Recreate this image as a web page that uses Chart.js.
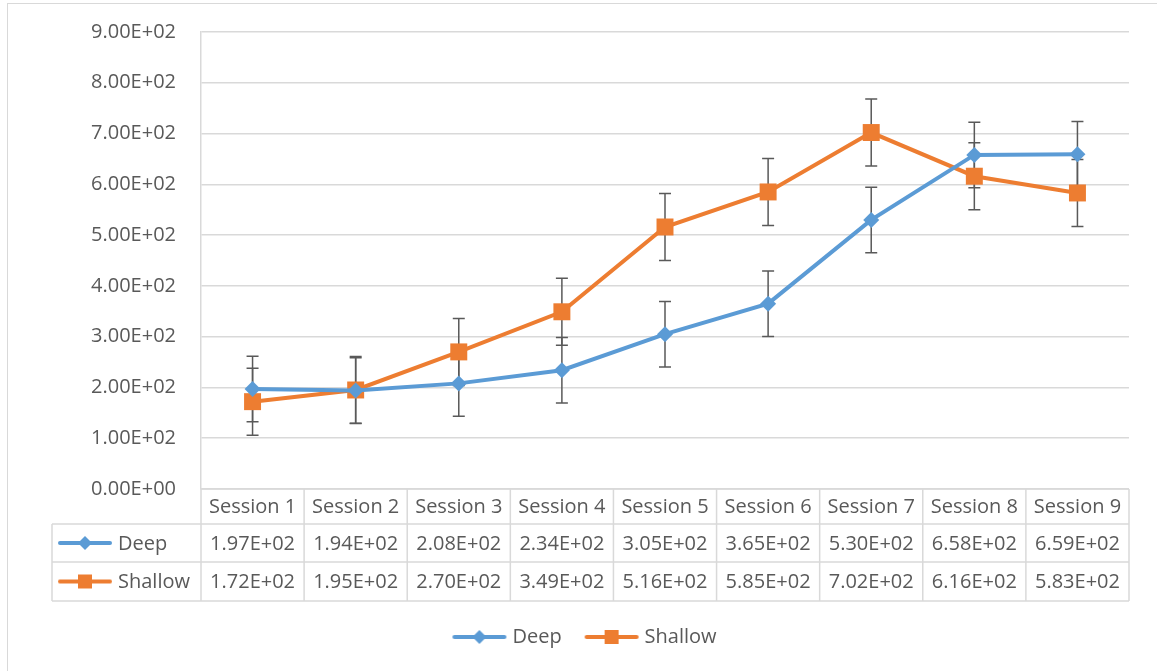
<!DOCTYPE html>
<html>
<head>
<meta charset="utf-8">
<script src="https://cdn.jsdelivr.net/npm/chart.js@4.4.1/dist/chart.umd.min.js"></script>
<style>
  html, body { margin: 0; padding: 0; background: #fff; }
  #wrap { position: relative; width: 1157px; height: 671px; overflow: hidden; }
  #frame { position: absolute; left: 7px; top: 3px; right: -10px; bottom: -10px; border-left: 1.5px solid #d9d9d9; border-top: 1.5px solid #d9d9d9; }
  canvas { position: absolute; left: 0; top: 0; }
</style>
</head>
<body>
<div id="wrap">
  <div id="frame"></div>
  <canvas id="chart" width="1157" height="671"></canvas>
</div>
<script>
// data
const sessions = ['Session 1', 'Session 2', 'Session 3', 'Session 4', 'Session 5', 'Session 6', 'Session 7', 'Session 8', 'Session 9'];
const deep = [197, 194, 208, 234, 305, 365, 530, 658, 659];
const shallow = [172, 195, 270, 349, 516, 585, 702, 616, 583];
const deepErr = [64.5, 64.5, 64.5, 64.5, 64.5, 64.5, 64.5, 64.5, 64.5];
const shallowErr = [66, 66, 66, 66, 66, 66, 66, 66, 66];
const yTicks = [0, 100, 200, 300, 400, 500, 600, 700, 800, 900];

const BLUE = '#5B9BD5';
const ORANGE = '#ED7D31';
const TEXT = '#595959';
const GRID = '#d9d9d9';
const FONT = '"Open Sans", sans-serif';

function sci(v) {
  // Excel style 0.00E+00
  const [m, e] = Number(v).toExponential(2).split('e');
  const n = parseInt(e, 10);
  return m + 'E' + (n < 0 ? '-' : '+') + String(Math.abs(n)).padStart(2, '0');
}

// little line+marker swatch used in the legend and the data table
function mkKey(color, shape) {
  const c = document.createElement('canvas');
  c.width = 56; c.height = 20;
  const g = c.getContext('2d');
  g.strokeStyle = color; g.lineWidth = 4; g.lineCap = 'round';
  g.beginPath(); g.moveTo(3, 10); g.lineTo(53, 10); g.stroke();
  g.fillStyle = color;
  g.beginPath();
  if (shape === 'diamond') {
    g.moveTo(28, 3); g.lineTo(35, 10); g.lineTo(28, 17); g.lineTo(21, 10);
  } else {
    g.rect(21, 3, 14, 14);
  }
  g.closePath(); g.fill();
  return c;
}
const deepKey = mkKey(BLUE, 'diamond');
const shallowKey = mkKey(ORANGE, 'square');

const errorBars = {
  id: 'errorBars',
  beforeDatasetsDraw(chart) {
    const { ctx } = chart;
    const y = chart.scales.y;
    const errs = [deepErr, shallowErr];
    ctx.save();
    ctx.strokeStyle = TEXT;
    ctx.lineWidth = 1.5;
    chart.data.datasets.forEach((ds, di) => {
      const meta = chart.getDatasetMeta(di);
      meta.data.forEach((pt, i) => {
        const v = ds.data[i], e = errs[di][i];
        const top = y.getPixelForValue(v + e), bot = y.getPixelForValue(v - e);
        ctx.beginPath();
        ctx.moveTo(pt.x, top); ctx.lineTo(pt.x, bot);
        ctx.moveTo(pt.x - 6, top); ctx.lineTo(pt.x + 6, top);
        ctx.moveTo(pt.x - 6, bot); ctx.lineTo(pt.x + 6, bot);
        ctx.stroke();
      });
    });
    ctx.restore();
  }
};

const dataTable = {
  id: 'dataTable',
  afterDraw(chart) {
    const { ctx, chartArea } = chart;
    const x = chart.scales.x;
    const cw = (chartArea.right - chartArea.left) / sessions.length;
    const r0 = chartArea.bottom, r1 = r0 + 35, r2 = r1 + 38, r3 = r2 + 39;
    const left = 52;
    ctx.save();
    ctx.strokeStyle = GRID;
    ctx.lineWidth = 1.5;
    ctx.beginPath();
    // horizontal rules
    ctx.moveTo(chartArea.left, r0); ctx.lineTo(chartArea.right, r0);
    ctx.moveTo(left, r1); ctx.lineTo(chartArea.right, r1);
    ctx.moveTo(left, r2); ctx.lineTo(chartArea.right, r2);
    ctx.moveTo(left, r3); ctx.lineTo(chartArea.right, r3);
    // vertical rules
    ctx.moveTo(left, r1); ctx.lineTo(left, r3);
    for (let i = 0; i <= sessions.length; i++) {
      const xx = chartArea.left + i * cw;
      ctx.moveTo(xx, r0); ctx.lineTo(xx, r3);
    }
    ctx.stroke();

    ctx.fillStyle = TEXT;
    ctx.font = '20px ' + FONT;
    ctx.textAlign = 'center';
    ctx.textBaseline = 'middle';
    sessions.forEach((s, i) => {
      const cx = x.getPixelForValue(i);
      ctx.fillText(s, cx, (r0 + r1) / 2 + 1);
      ctx.fillText(sci(deep[i]), cx, (r1 + r2) / 2 + 1);
      ctx.fillText(sci(shallow[i]), cx, (r2 + r3) / 2 + 1);
    });
    ctx.textAlign = 'left';
    ctx.drawImage(deepKey, 57, (r1 + r2) / 2 - 10);
    ctx.drawImage(shallowKey, 57, (r2 + r3) / 2 - 10);
    ctx.fillText('Deep', 118, (r1 + r2) / 2 + 1);
    ctx.fillText('Shallow', 118, (r2 + r3) / 2 + 1);
    ctx.restore();
  }
};

new Chart(document.getElementById('chart'), {
  type: 'line',
  data: {
    labels: sessions,
    datasets: [
      {
        label: 'Deep', data: deep,
        borderColor: BLUE, backgroundColor: BLUE, borderWidth: 4,
        pointStyle: 'rectRot', pointRadius: 8, pointBorderWidth: 0,
        pointBackgroundColor: BLUE, tension: 0
      },
      {
        label: 'Shallow', data: shallow,
        borderColor: ORANGE, backgroundColor: ORANGE, borderWidth: 4,
        pointStyle: 'rect', pointRadius: 12, pointBorderWidth: 0,
        pointBackgroundColor: ORANGE, tension: 0
      }
    ]
  },
  options: {
    responsive: false,
    animation: false,
    layout: { padding: { left: 44, right: 28, top: 32, bottom: 14 } },
    plugins: {
      legend: {
        position: 'bottom',
        labels: {
          color: TEXT,
          font: { family: FONT, size: 20 },
          usePointStyle: true,
          pointStyleWidth: 46,
          padding: 27,
          generateLabels: () => [
            { text: 'Deep', pointStyle: deepKey, fontColor: TEXT, lineWidth: 0, datasetIndex: 0 },
            { text: 'Shallow', pointStyle: shallowKey, fontColor: TEXT, lineWidth: 0, datasetIndex: 1 }
          ]
        }
      },
      tooltip: { enabled: false }
    },
    scales: {
      x: {
        type: 'category',
        offset: true,
        grid: { display: false },
        border: { display: false },
        ticks: { display: false },
        afterFit(scale) { scale.height = 111; }
      },
      y: {
        min: 0, max: 900,
        afterBuildTicks(scale) { scale.ticks = yTicks.map(v => ({ value: v })); },
        afterFit(scale) {
          scale.width = 157;
          // tick padding is only meant as horizontal gap here
          scale.paddingTop = 0;
          scale.paddingBottom = 0;
        },
        grid: { color: GRID, lineWidth: 1.5, drawTicks: false },
        border: { display: true, color: GRID, width: 1.5 },
        ticks: {
          color: TEXT,
          padding: 25,
          font: { family: FONT, size: 20 },
          callback: v => sci(v)
        }
      }
    }
  },
  plugins: [errorBars, dataTable]
});
</script>
</body>
</html>
